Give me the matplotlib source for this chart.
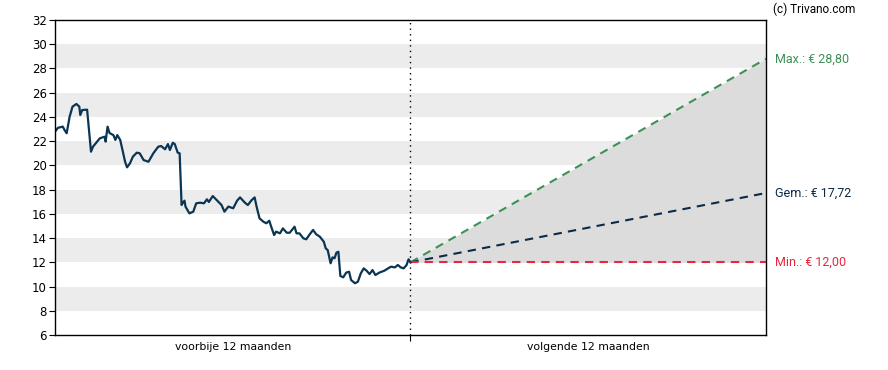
import numpy as np
import matplotlib.pyplot as plt

# koersverloop afgelopen 12 maanden (dag, koers)
days = [0, 3, 8, 10, 12, 15, 18, 22, 25, 26, 28, 33, 37, 39, 46, 51, 52, 54, 56, 60,
        62, 64, 67, 72, 74, 77, 80, 84, 87, 91, 96, 101, 106, 109, 113, 116, 118, 121,
        123, 126, 128, 130, 131, 133, 134, 138, 142, 145, 149, 153, 156, 158, 162, 166,
        171, 174, 178, 183, 187, 190, 195, 198, 202, 205, 207, 210, 214, 217, 220, 222,
        225, 227, 231, 234, 238, 241, 246, 248, 251, 255, 258, 261, 265, 268, 272, 276,
        278, 280, 283, 285, 287, 289, 291, 293, 296, 299, 302, 304, 308, 311, 314, 317,
        320, 323, 326, 329, 333, 338, 342, 345, 349, 352, 355, 358, 361, 363, 365]
prices = [22.78, 23.1, 23.2, 22.9, 22.65, 24.0, 24.85, 25.07, 24.85, 24.16, 24.57, 24.6,
          21.13, 21.54, 22.23, 22.37, 21.96, 23.2, 22.67, 22.5, 22.1, 22.5, 22.1, 20.3,
          19.84, 20.17, 20.72, 21.05, 21.0, 20.44, 20.3, 21.0, 21.54, 21.6, 21.33, 21.76,
          21.27, 21.87, 21.76, 21.05, 21.0, 16.73, 16.87, 17.09, 16.6, 16.04, 16.18, 16.87,
          16.92, 16.87, 17.2, 16.98, 17.47, 17.14, 16.73, 16.18, 16.6, 16.46, 17.09, 17.36,
          16.92, 16.73, 17.14, 17.36, 16.6, 15.63, 15.35, 15.22, 15.43, 14.94, 14.25, 14.53,
          14.39, 14.8, 14.44, 14.44, 14.94, 14.39, 14.39, 13.98, 13.9, 14.25, 14.67, 14.33,
          14.11, 13.7, 13.15, 13.01, 11.92, 12.41, 12.33, 12.8, 12.87, 10.87, 10.76, 11.15,
          11.22, 10.54, 10.27, 10.4, 11.09, 11.5, 11.3, 11.03, 11.36, 10.95, 11.15, 11.3,
          11.5, 11.64, 11.58, 11.78, 11.58, 11.5, 11.78, 12.25, 12.0]

# koersdoelen komende 12 maanden
fc_days = [365, 730]
fc_max = [12.0, 28.80]
fc_avg = [12.0, 17.72]
fc_min = [12.0, 12.00]

fig = plt.figure(figsize=(8.88, 3.70), dpi=100)
ax = fig.add_axes([0.0619, 0.0946, 0.8007, 0.8513])
plt.rcParams['font.family'] = ['Roboto', 'DejaVu Sans']

# grijze banden
for lo in range(8, 30, 4):
    ax.axhspan(lo, lo + 2, color='#ececec', lw=0, zorder=0)

ax.fill_between(fc_days, fc_min, fc_max, color='#dcdcdc', lw=0, zorder=1)
ax.axvline(365, color='black', ls=(0, (1, 3)), lw=1, zorder=2)

ax.plot(days, prices, color='#0b3552', lw=1.6, zorder=4)
ax.plot(fc_days, fc_max, color='#3d9157', lw=1.5, ls=(0, (4, 3)), zorder=3)
ax.plot(fc_days, fc_avg, color='#0b2a47', lw=1.5, ls=(0, (4, 3)), zorder=3)
ax.plot(fc_days, fc_min, color='#e8273d', lw=1.5, ls=(0, (4, 3)), zorder=3)

ax.set_xlim(0, 730)
ax.set_ylim(6, 32)
ax.set_yticks(range(6, 33, 2))
ax.set_xticks([365])
ax.set_xticklabels([''])
ax.set_xticks([182.5, 547.5], minor=True)
ax.set_xticklabels(['voorbije 12 maanden', 'volgende 12 maanden'], minor=True)
ax.tick_params(axis='x', which='minor', length=0, labelsize=7.8, pad=5)
ax.tick_params(axis='x', which='major', length=4)
ax.tick_params(axis='y', length=4, labelsize=8.5, pad=2)
for s in ax.spines.values():
    s.set_linewidth(1)
    s.set_zorder(5)

ax.text(1.012, 28.8, 'Max.: € 28,80', transform=ax.get_yaxis_transform(),
        color='#3d9157', fontsize=9, va='center')
ax.text(1.012, 17.72, 'Gem.: € 17,72', transform=ax.get_yaxis_transform(),
        color='#0b2a47', fontsize=9, va='center')
ax.text(1.012, 12.0, 'Min.: € 12,00', transform=ax.get_yaxis_transform(),
        color='#e8273d', fontsize=9, va='center')
fig.text(0.871, 0.975, '(c) Trivano.com', fontsize=8.5, va='center')

plt.savefig('out.png', dpi=100)
